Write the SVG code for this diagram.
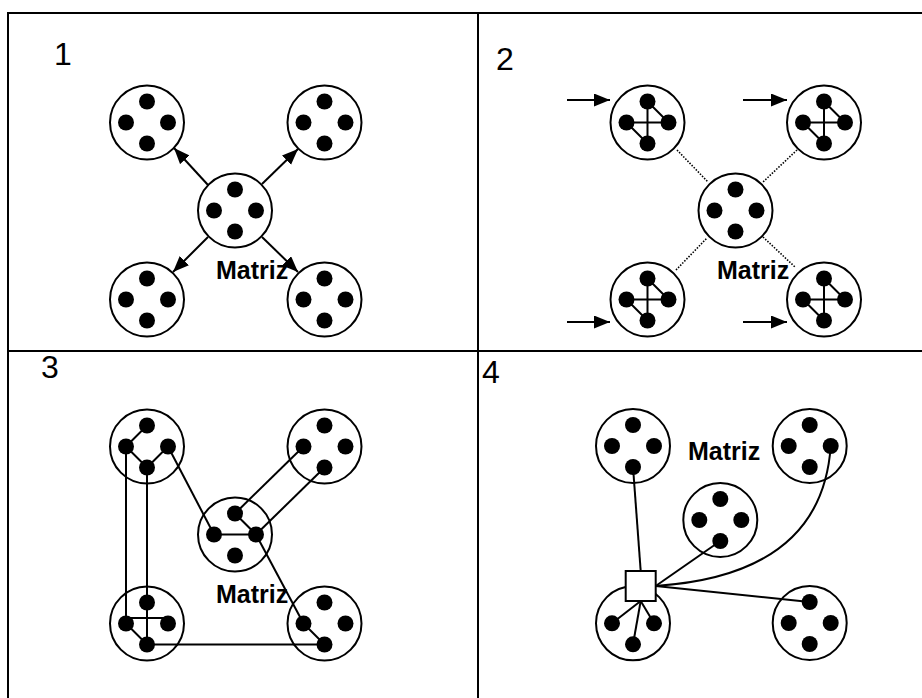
<svg xmlns="http://www.w3.org/2000/svg" xmlns:xlink="http://www.w3.org/1999/xlink" width="922" height="698" viewBox="0 0 922 698">
<style>
.frame{stroke:#000;stroke-width:2;fill:none}
.cell{fill:#fff;stroke:#000;stroke-width:2}
.dot{fill:#000}
.ln{stroke:#000;stroke-width:2;fill:none}
.dotted{stroke:#000;stroke-width:1.6;stroke-dasharray:1.5 1.5;fill:none}
.num{font-family:"Liberation Sans",Arial,sans-serif;font-size:32px;fill:#000}
.lbl{font-family:"Liberation Sans",Arial,sans-serif;font-size:25px;font-weight:bold;fill:#000}
</style>
<defs>
<marker id="arr" markerUnits="userSpaceOnUse" markerWidth="18" markerHeight="14" refX="16" refY="6.5" orient="auto">
<path d="M0,0 L16,6.5 L0,13 Z" fill="#000"/>
</marker>
<g id="c4">
<circle class="cell" r="37"/>
<circle class="dot" cx="0" cy="-21" r="8"/>
<circle class="dot" cx="-21" cy="0" r="8"/>
<circle class="dot" cx="21" cy="0" r="8"/>
<circle class="dot" cx="0" cy="21" r="8"/>
</g>
<g id="c4x">
<circle class="cell" r="37"/>
<line class="ln" x1="0" y1="-21" x2="0" y2="21"/>
<line class="ln" x1="-21" y1="0" x2="21" y2="0"/>
<line class="ln" x1="0" y1="-21" x2="21" y2="0"/>
<line class="ln" x1="-21" y1="0" x2="0" y2="21"/>
<circle class="dot" cx="0" cy="-21" r="8"/>
<circle class="dot" cx="-21" cy="0" r="8"/>
<circle class="dot" cx="21" cy="0" r="8"/>
<circle class="dot" cx="0" cy="21" r="8"/>
</g>
</defs>
<rect width="922" height="698" fill="#fff"/>
<g id="frame">
<line class="frame" x1="8" y1="13" x2="922" y2="13"/>
<line class="frame" x1="8" y1="12" x2="8" y2="698"/>
<line class="frame" x1="478" y1="12" x2="478" y2="698"/>
<line class="frame" x1="8" y1="351" x2="922" y2="351"/>
</g>
<g id="labels">
<text class="num" x="54" y="65">1</text>
<text class="num" x="496" y="70">2</text>
<text class="num" x="41" y="378">3</text>
<text class="num" x="482" y="383">4</text>
</g>
<g id="connectors">
<!-- Q1 -->
<line class="ln" x1="208" y1="185" x2="174" y2="148" marker-end="url(#arr)"/>
<line class="ln" x1="262" y1="184" x2="298" y2="149" marker-end="url(#arr)"/>
<line class="ln" x1="208" y1="237" x2="173" y2="272" marker-end="url(#arr)"/>
<line class="ln" x1="262" y1="237" x2="298" y2="272" marker-end="url(#arr)"/>
<!-- Q2 -->
<line class="ln" x1="567" y1="100" x2="610" y2="100" marker-end="url(#arr)"/>
<line class="ln" x1="743" y1="100" x2="787" y2="100" marker-end="url(#arr)"/>
<line class="ln" x1="567" y1="322" x2="610" y2="322" marker-end="url(#arr)"/>
<line class="ln" x1="743" y1="322" x2="787" y2="322" marker-end="url(#arr)"/>
<line class="dotted" x1="677" y1="150" x2="708" y2="182"/>
<line class="dotted" x1="797" y1="150" x2="763" y2="182"/>
<line class="dotted" x1="676" y1="270" x2="707" y2="238"/>
<line class="dotted" x1="763" y1="237" x2="795" y2="267"/>
</g>
<g id="q1-tl"><use xlink:href="#c4" x="147" y="122.5"/></g>
<g id="q1-tr"><use xlink:href="#c4" x="324.5" y="122.5"/></g>
<g id="q1-center"><use xlink:href="#c4" x="235" y="210.5"/></g>
<g id="q1-bl"><use xlink:href="#c4" x="147" y="299.5"/></g>
<g id="q1-br"><use xlink:href="#c4" x="324.5" y="299.5"/></g>
<text class="lbl" x="216" y="279">Matriz</text>
<g id="q2-tl"><use xlink:href="#c4x" x="647.5" y="122.5"/></g>
<g id="q2-tr"><use xlink:href="#c4x" x="824" y="122.5"/></g>
<g id="q2-center"><use xlink:href="#c4" x="735.5" y="210.5"/></g>
<g id="q2-bl"><use xlink:href="#c4x" x="647.5" y="299.5"/></g>
<g id="q2-br"><use xlink:href="#c4x" x="824" y="299.5"/></g>
<text class="lbl" x="717" y="279">Matriz</text>
<!-- Q3 circles -->
<g id="q3-circles">
<circle class="cell" cx="147" cy="446.5" r="37"/>
<circle class="cell" cx="324.5" cy="446.5" r="37"/>
<circle class="cell" cx="235" cy="534.5" r="37"/>
<circle class="cell" cx="147" cy="623.5" r="37"/>
<circle class="cell" cx="324.5" cy="623.5" r="37"/>
</g>
<g id="q3-connectors">
<line class="ln" x1="147" y1="425.5" x2="126" y2="446.5"/>
<line class="ln" x1="126" y1="446.5" x2="147" y2="467.5"/>
<line class="ln" x1="147" y1="467.5" x2="168" y2="446.5"/>
<line class="ln" x1="126" y1="446.5" x2="126" y2="623.5"/>
<line class="ln" x1="147" y1="467.5" x2="147" y2="644.5"/>
<line class="ln" x1="168" y1="446.5" x2="214" y2="534.5"/>
<line class="ln" x1="214" y1="534.5" x2="256" y2="534.5"/>
<line class="ln" x1="235" y1="513.5" x2="256" y2="534.5"/>
<line class="ln" x1="235" y1="513.5" x2="303.5" y2="446.5"/>
<line class="ln" x1="256" y1="534.5" x2="324.5" y2="467.5"/>
<line class="ln" x1="256" y1="534.5" x2="303.5" y2="623.5"/>
<line class="ln" x1="303.5" y1="623.5" x2="324.5" y2="644.5"/>
<line class="ln" x1="126" y1="618" x2="168" y2="618"/>
<line class="ln" x1="126" y1="623.5" x2="147" y2="644.5"/>
<line class="ln" x1="147" y1="644.5" x2="324.5" y2="644.5"/>
</g>
<g id="q3-tl">
<circle class="dot" cx="147" cy="425.5" r="8"/><circle class="dot" cx="126" cy="446.5" r="8"/><circle class="dot" cx="168" cy="446.5" r="8"/><circle class="dot" cx="147" cy="467.5" r="8"/>
</g>
<g id="q3-tr">
<circle class="dot" cx="324.5" cy="425.5" r="8"/><circle class="dot" cx="303.5" cy="446.5" r="8"/><circle class="dot" cx="345.5" cy="446.5" r="8"/><circle class="dot" cx="324.5" cy="467.5" r="8"/>
</g>
<g id="q3-center">
<circle class="dot" cx="235" cy="513.5" r="8"/><circle class="dot" cx="214" cy="534.5" r="8"/><circle class="dot" cx="256" cy="534.5" r="8"/><circle class="dot" cx="235" cy="555.5" r="8"/>
</g>
<g id="q3-bl">
<circle class="dot" cx="147" cy="602.5" r="8"/><circle class="dot" cx="126" cy="623.5" r="8"/><circle class="dot" cx="168" cy="623.5" r="8"/><circle class="dot" cx="147" cy="644.5" r="8"/>
</g>
<g id="q3-br">
<circle class="dot" cx="324.5" cy="602.5" r="8"/><circle class="dot" cx="303.5" cy="623.5" r="8"/><circle class="dot" cx="345.5" cy="623.5" r="8"/><circle class="dot" cx="324.5" cy="644.5" r="8"/>
</g>
<text class="lbl" x="216" y="603">Matriz</text>
<!-- Q4 -->
<g id="q4-circles">
<circle class="cell" cx="633" cy="446" r="37"/>
<circle class="cell" cx="809.7" cy="446" r="37"/>
<circle class="cell" cx="720.3" cy="520" r="37"/>
<circle class="cell" cx="633" cy="623.3" r="37"/>
<circle class="cell" cx="809.7" cy="623" r="37"/>
</g>
<g id="q4-connectors">
<line class="ln" x1="633" y1="467" x2="640.7" y2="571"/>
<line class="ln" x1="720.3" y1="541" x2="655.7" y2="586"/>
<path class="ln" d="M830.7,446 Q822,575 655.7,586"/>
<line class="ln" x1="809.7" y1="602" x2="655.7" y2="586"/>
<line class="ln" x1="640.7" y1="601" x2="612" y2="623.3"/>
<line class="ln" x1="640.7" y1="601" x2="633" y2="644.3"/>
<line class="ln" x1="640.7" y1="601" x2="654" y2="623.3"/>
</g>
<g id="q4-tl">
<circle class="dot" cx="633" cy="425" r="8"/><circle class="dot" cx="612" cy="446" r="8"/><circle class="dot" cx="654" cy="446" r="8"/><circle class="dot" cx="633" cy="467" r="8"/>
</g>
<g id="q4-tr">
<circle class="dot" cx="809.7" cy="425" r="8"/><circle class="dot" cx="788.7" cy="446" r="8"/><circle class="dot" cx="830.7" cy="446" r="8"/><circle class="dot" cx="809.7" cy="467" r="8"/>
</g>
<g id="q4-center">
<circle class="dot" cx="720.3" cy="499" r="8"/><circle class="dot" cx="699.3" cy="520" r="8"/><circle class="dot" cx="741.3" cy="520" r="8"/><circle class="dot" cx="720.3" cy="541" r="8"/>
</g>
<g id="q4-bl">
<circle class="dot" cx="612" cy="623.3" r="8"/><circle class="dot" cx="654" cy="623.3" r="8"/><circle class="dot" cx="633" cy="644.3" r="8"/>
</g>
<g id="q4-br">
<circle class="dot" cx="809.7" cy="602" r="8"/><circle class="dot" cx="788.7" cy="623" r="8"/><circle class="dot" cx="830.7" cy="623" r="8"/><circle class="dot" cx="809.7" cy="644" r="8"/>
</g>
<g id="q4-switch">
<rect class="cell" x="625.7" y="571" width="30" height="30"/>
</g>
<text class="lbl" x="688" y="460">Matriz</text>
</svg>
